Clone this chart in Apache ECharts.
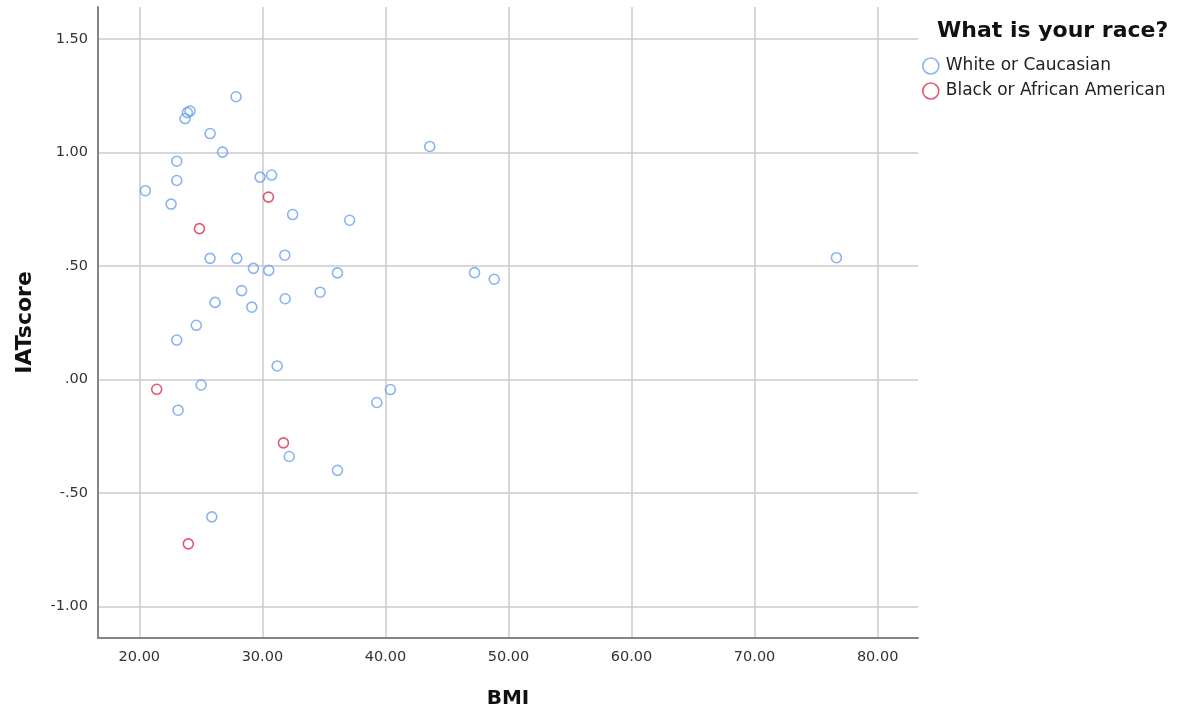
<!DOCTYPE html>
<html>
<head>
<meta charset="utf-8">
<script src="https://cdn.jsdelivr.net/npm/echarts@6/dist/echarts.min.js"></script>
<style>
html,body{margin:0;padding:0;background:#fff;overflow:hidden;}
#chart{width:1180px;height:714px;}
</style>
</head>
<body>
<div id="chart"></div>
<script>
// ---- data ----
const whiteBMI = [20.49,22.58,23.04,23.04,23.72,23.90,24.12,27.86,25.75,26.76,29.81,30.75,32.46,37.09,43.60,
  25.75,27.92,31.82,29.27,30.52,36.10,47.24,48.84,76.65,28.31,26.15,31.85,34.69,29.14,24.63,23.04,31.20,
  25.02,40.40,39.30,23.15,32.18,36.10,25.89];
const whiteIAT = [0.831,0.772,0.961,0.876,1.149,1.175,1.182,1.245,1.083,1.001,0.891,0.900,0.726,0.701,1.026,
  0.533,0.533,0.547,0.489,0.480,0.469,0.470,0.441,0.536,0.391,0.339,0.355,0.384,0.318,0.238,0.173,0.059,
  -0.025,-0.045,-0.102,-0.136,-0.340,-0.401,-0.606];
const blackBMI = [30.49,24.88,21.41,31.71,23.98];
const blackIAT = [0.803,0.664,-0.044,-0.280,-0.725];

const xTicks = [20,30,40,50,60,70,80];
const yTicks = [-1.0,-0.5,0.0,0.5,1.0,1.5];
const seriesNames = ['White or Caucasian','Black or African American'];
const legendTitle = 'What is your race?';

const fmtY = v => {
  let s = Number(v).toFixed(2);
  return s.replace(/^(-?)0\./, '$1.');
};
const pair = (xs, ys) => xs.map((x,i)=>[x, ys[i]]);

const chart = echarts.init(document.getElementById('chart'), null, {renderer:'canvas'});
const font = '"DejaVu Sans", Verdana, sans-serif';
const gridColor = '#cbcbcb';
const axisColor = '#858585';

chart.setOption({
  animation:false,
  backgroundColor:'#ffffff',
  textStyle:{fontFamily:font},
  title:{
    text: legendTitle,
    left: 932, top: 15,
    textStyle:{fontFamily:font, fontSize:22, fontWeight:'bold', color:'#111'}
  },
  legend:{
    orient:'vertical',
    left: 917, top: 52,
    itemWidth: 16, itemHeight: 16, itemGap: 7,
    icon:'circle',
    data: seriesNames,
    textStyle:{fontFamily:font, fontSize:17, color:'#222', lineHeight:18, padding:[0,0,0,2]},
    itemStyle:{color:'transparent', borderWidth:1.6}
  },
  grid:{left:98, right:262, top:7, bottom:72, containLabel:false},
  xAxis:{
    type:'value', min:16.64, max:83.28,
    name:'BMI', nameLocation:'middle', nameGap:51,
    nameTextStyle:{fontFamily:font, fontSize:20, fontWeight:'bold', color:'#111'},
    axisLine:{show:true, onZero:false, lineStyle:{color:axisColor, width:2}},
    axisTick:{show:false, customValues:xTicks},
    axisLabel:{customValues:xTicks, formatter:v=>Number(v).toFixed(2), fontFamily:font, fontSize:14.5, color:'#333', margin:12},
    splitLine:{show:true, lineStyle:{color:gridColor, width:1.5}}
  },
  yAxis:{
    type:'value', min:-1.1397, max:1.6405,
    name:'IATscore', nameLocation:'middle', nameGap:62,
    nameTextStyle:{fontFamily:font, fontSize:22, fontWeight:'bold', color:'#111'},
    axisLine:{show:true, onZero:false, lineStyle:{color:axisColor, width:2}},
    axisTick:{show:false, customValues:yTicks},
    axisLabel:{customValues:yTicks, formatter:fmtY, fontFamily:font, fontSize:14.5, color:'#333', margin:10},
    splitLine:{show:true, lineStyle:{color:gridColor, width:1.5}}
  },
  series:[
    {
      name: seriesNames[0], type:'scatter', symbol:'circle', symbolSize:10,
      itemStyle:{color:'transparent', borderColor:'#6aa3ee', borderWidth:1.6},
      data: pair(whiteBMI, whiteIAT)
    },
    {
      name: seriesNames[1], type:'scatter', symbol:'circle', symbolSize:10,
      itemStyle:{color:'transparent', borderColor:'#d9304f', borderWidth:1.6},
      data: pair(blackBMI, blackIAT)
    }
  ]
});
</script>
</body>
</html>
